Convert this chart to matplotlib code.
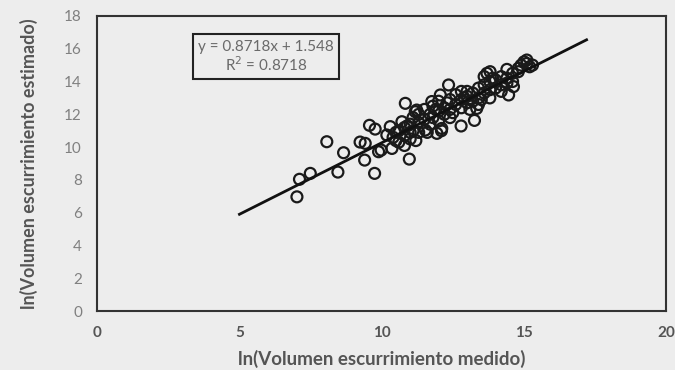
import numpy as np
import matplotlib
matplotlib.use("Agg")
import matplotlib.pyplot as plt

plt.rcParams['font.family'] = ['Lato', 'DejaVu Sans']

# Datos
medido = [7.02, 7.11, 7.49, 8.07, 8.46, 8.66, 9.24, 9.42, 9.40, 9.57, 9.77, 9.75,
          9.89, 9.98, 10.18, 10.30, 10.36, 10.83, 10.97, 10.71, 11.18, 11.53, 11.94,
          12.11, 12.06, 12.35, 12.79, 13.26, 13.81, 14.40, 15.10, 14.46, 14.63, 13.34,
          11.23, 11.76,
          14.9, 15.0, 15.2, 15.1, 15.3, 14.8, 13.6, 13.7, 13.9,
          10.4, 10.5, 10.5, 10.6, 10.6, 10.8, 10.8, 10.8, 11.0, 11.0, 11.0, 11.1, 11.1,
          11.3, 11.3, 11.3, 11.5, 11.5, 11.7, 11.7, 11.8, 11.8, 12.0, 12.0, 12.0,
          12.2, 12.2, 12.4, 12.4, 12.4, 12.6, 12.6, 12.8, 12.8, 12.8, 13.0, 13.0, 13.0,
          13.2, 13.2, 13.4, 13.4, 13.4, 13.6, 13.6, 13.8, 13.8, 13.8, 14.0, 14.0,
          14.2, 14.2, 14.2, 14.4, 14.4, 14.6, 14.6, 14.8,
          11.2, 11.6, 12.1, 12.5, 13.1, 12.9, 11.9, 10.9, 12.3, 13.5]
estimado = [6.97, 8.04, 8.40, 10.33, 8.48, 9.66, 10.31, 10.23, 9.21, 11.33, 11.10, 8.40,
            9.72, 9.82, 10.74, 11.25, 9.92, 12.67, 9.27, 11.55, 12.16, 11.04, 10.84,
            11.14, 13.18, 13.79, 11.29, 11.63, 14.60, 14.74, 15.31, 13.18, 13.69, 12.36,
            12.26, 12.78,
            15.0, 15.2, 14.9, 15.1, 15.0, 14.8, 14.3, 14.5, 14.2,
            10.6, 10.9, 10.4, 11.0, 10.3, 11.2, 10.7, 10.1, 11.4, 10.9, 10.5, 11.8, 11.0,
            11.5, 10.9, 12.0, 11.7, 12.3, 12.0, 11.4, 12.5, 11.8, 12.2, 11.6, 12.8,
            12.4, 12.0, 12.9, 12.3, 11.8, 12.6, 13.2, 12.9, 12.4, 13.4, 13.1, 12.7, 13.4,
            13.3, 12.8, 13.6, 13.0, 12.6, 13.8, 13.3, 14.0, 13.5, 13.0, 14.1, 13.6,
            14.3, 13.8, 13.4, 14.2, 13.9, 14.5, 14.0, 14.6,
            10.4, 10.9, 11.0, 12.1, 12.3, 13.0, 12.3, 11.3, 12.7, 12.9]

pendiente = 0.8718
intercepto = 1.548
x_linea = np.array([5.0, 17.2])

fig = plt.figure(figsize=(6.75, 3.7), dpi=100, facecolor="#ededed")
ax = fig.add_axes([0.144, 0.159, 0.843, 0.798])
ax.set_facecolor("#ededed")

ax.scatter(medido, estimado, s=62, facecolors="none", edgecolors="#1a1a1a",
           linewidths=1.6, zorder=3)
ax.plot(x_linea, pendiente * x_linea + intercepto, color="#111111", lw=2, zorder=4)

ax.set_xlim(0, 20)
ax.set_ylim(0, 18)
ax.set_xticks([0, 5, 10, 15, 20])
ax.set_yticks(range(0, 19, 2))
ax.tick_params(axis="y", length=0, pad=11)
ax.tick_params(axis="x", length=0, pad=11)
for lbl in ax.get_xticklabels():
    lbl.set_color("#555555")
    lbl.set_fontweight("bold")
    lbl.set_fontsize(11)
for lbl in ax.get_yticklabels():
    lbl.set_color("#808080")
    lbl.set_fontsize(11)
for s in ax.spines.values():
    s.set_color("#333333")
    s.set_linewidth(1.5)

ax.set_xlabel("ln(Volumen escurrimiento medido)", fontsize=13.5, fontweight="bold",
              color="#555555", labelpad=7)
ax.set_ylabel("ln(Volumen escurrimiento estimado)", fontsize=13, fontweight="bold",
              color="#555555", labelpad=19)

ax.text(0.297, 0.862, "y = 0.8718x + 1.548\nR$^2$ = 0.8718", transform=ax.transAxes,
        ha="center", va="center", fontsize=11, color="#6a6a6a", linespacing=1.1,
        bbox=dict(boxstyle="square,pad=0.35", facecolor="#ededed", edgecolor="#222222", lw=1.5))

fig.savefig("out.png", dpi=100, facecolor=fig.get_facecolor())
